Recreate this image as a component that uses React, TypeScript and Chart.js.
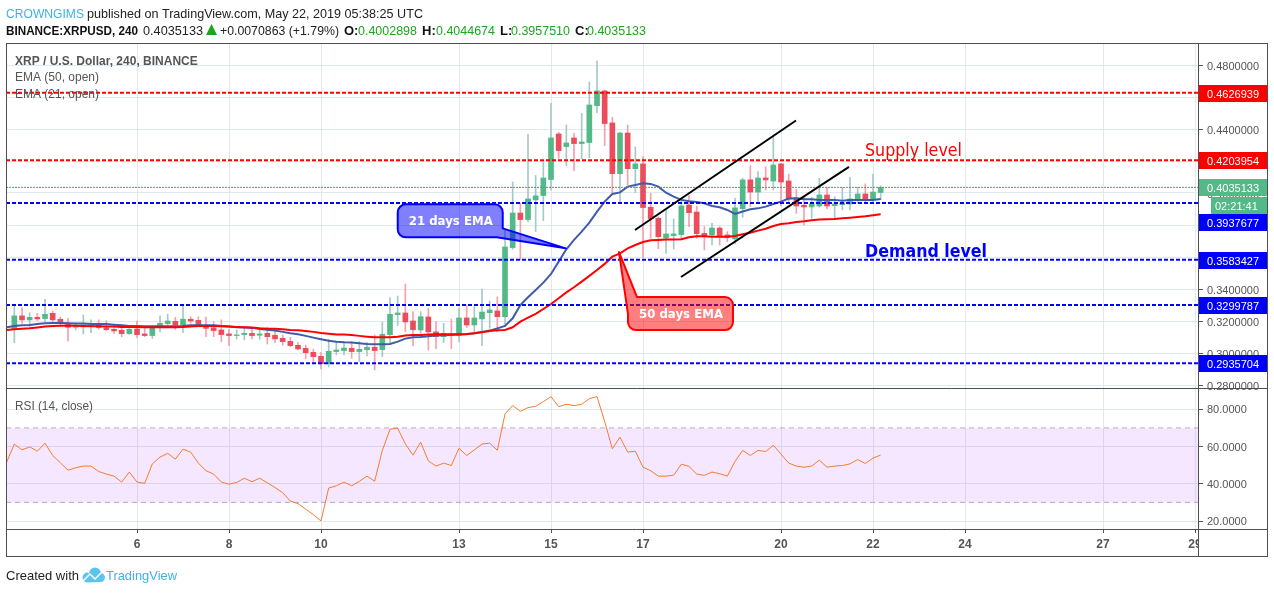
import React, { useEffect, useRef } from 'react';
import { Chart, registerables } from 'chart.js';

Chart.register(...registerables);

// 4h candles, May 2019. x is the day of the month
const firstCandleDay = 3 + 1 / 3;
const candlesPerDay = 6;
const dayTicks = [6, 8, 10, 13, 15, 17, 20, 22, 24, 27, 29];
const priceTicks = [0.48, 0.46, 0.44, 0.42, 0.4, 0.38, 0.36, 0.34, 0.32, 0.3, 0.28];
const rsiTicks = [80, 60, 40, 20];

const opens = [
  0.3153, 0.3232, 0.3207, 0.3223, 0.3215, 0.3248, 0.3211, 0.3186, 0.3161, 0.3163,
  0.3169, 0.3175, 0.3157, 0.3148, 0.3142, 0.3121, 0.315, 0.3119, 0.3109, 0.3159,
  0.3184, 0.3198, 0.3175, 0.3211, 0.3204, 0.3173, 0.3157, 0.3144, 0.3119, 0.3109,
  0.3115, 0.3123, 0.3111, 0.3123, 0.3111, 0.3092, 0.3073, 0.3048, 0.3029, 0.3004,
  0.2979, 0.2933, 0.3009, 0.3015, 0.3029, 0.3009, 0.3021, 0.3036, 0.3021, 0.3115,
  0.324, 0.325, 0.32, 0.3144, 0.3225, 0.3132, 0.3102, 0.3119, 0.3109, 0.3219,
  0.3175, 0.3213, 0.3252, 0.3263, 0.3227, 0.3659, 0.3875, 0.3834, 0.3957, 0.3984,
  0.4084, 0.4369, 0.429, 0.4344, 0.4309, 0.4315, 0.4546, 0.4638, 0.4438, 0.4121,
  0.4375, 0.4152, 0.4182, 0.3911, 0.3842, 0.3719, 0.3734, 0.374, 0.3925, 0.3881,
  0.3748, 0.3738, 0.3781, 0.3738, 0.3713, 0.3902, 0.4082, 0.4006, 0.4094, 0.4075,
  0.4182, 0.4075, 0.3969, 0.3923, 0.3913, 0.3919, 0.3988, 0.3921, 0.3927, 0.3931,
  0.3961, 0.3994, 0.3961, 0.4003,
];
const highs = [
  0.3305, 0.3282, 0.3252, 0.3248, 0.3336, 0.3263, 0.3223, 0.3217, 0.3186, 0.3238,
  0.3207, 0.3207, 0.3202, 0.3175, 0.3165, 0.3169, 0.32, 0.3154, 0.3169, 0.3232,
  0.3242, 0.3223, 0.3294, 0.3227, 0.3225, 0.3225, 0.3196, 0.3207, 0.3148, 0.3144,
  0.3161, 0.3154, 0.3148, 0.3161, 0.3154, 0.3113, 0.3098, 0.3065, 0.305, 0.3023,
  0.3004, 0.3086, 0.3071, 0.3071, 0.3071, 0.3071, 0.3065, 0.3113, 0.3194, 0.3346,
  0.3356, 0.3431, 0.3259, 0.3259, 0.328, 0.3196, 0.3186, 0.3211, 0.3284, 0.33,
  0.329, 0.34, 0.3325, 0.335, 0.3769, 0.4069, 0.3936, 0.4369, 0.4109, 0.4196,
  0.4561, 0.4379, 0.4425, 0.4373, 0.4498, 0.4694, 0.4825, 0.4644, 0.4473, 0.4379,
  0.4425, 0.4288, 0.4227, 0.3998, 0.3852, 0.3894, 0.3838, 0.3961, 0.3984, 0.3919,
  0.379, 0.3811, 0.379, 0.3759, 0.3967, 0.4092, 0.4171, 0.4134, 0.4165, 0.4352,
  0.4186, 0.4119, 0.4023, 0.3977, 0.3973, 0.4092, 0.4036, 0.3977, 0.4036, 0.4098,
  0.4036, 0.4057, 0.4119, 0.4045,
];
const lows = [
  0.3064, 0.3186, 0.3165, 0.3202, 0.3196, 0.319, 0.3165, 0.3075, 0.3144, 0.3119,
  0.3127, 0.3148, 0.314, 0.3123, 0.3102, 0.3115, 0.3096, 0.3102, 0.309, 0.3132,
  0.3175, 0.3148, 0.3127, 0.3186, 0.3165, 0.3102, 0.3102, 0.3071, 0.3046, 0.3088,
  0.3081, 0.3088, 0.3086, 0.3056, 0.3065, 0.3048, 0.304, 0.3019, 0.2965, 0.2944,
  0.29, 0.2913, 0.2988, 0.2988, 0.2967, 0.2946, 0.2981, 0.2894, 0.2977, 0.3056,
  0.3171, 0.3134, 0.3044, 0.3123, 0.3019, 0.3027, 0.3065, 0.3027, 0.3069, 0.3159,
  0.3119, 0.3046, 0.3154, 0.3132, 0.3165, 0.3648, 0.3582, 0.3821, 0.3759, 0.3827,
  0.4019, 0.4217, 0.4171, 0.414, 0.4213, 0.4221, 0.4502, 0.4296, 0.3994, 0.3942,
  0.4052, 0.4002, 0.3598, 0.3717, 0.3652, 0.3623, 0.365, 0.3706, 0.379, 0.3717,
  0.3644, 0.3675, 0.3675, 0.3696, 0.3681, 0.3848, 0.3915, 0.3936, 0.4019, 0.4019,
  0.3919, 0.3936, 0.3873, 0.38, 0.3842, 0.3911, 0.3902, 0.3836, 0.3894, 0.3894,
  0.3936, 0.3936, 0.3936, 0.3958,
];
const closes = [
  0.3232, 0.3207, 0.3223, 0.3213, 0.3242, 0.3207, 0.3184, 0.3161, 0.3171, 0.3175,
  0.3175, 0.3159, 0.3146, 0.3138, 0.3121, 0.3148, 0.3115, 0.3109, 0.3163, 0.3186,
  0.32, 0.3175, 0.3211, 0.32, 0.3171, 0.3154, 0.314, 0.3115, 0.3109, 0.3113,
  0.3123, 0.3109, 0.3119, 0.3102, 0.3088, 0.3071, 0.3046, 0.3025, 0.3002, 0.2977,
  0.2933, 0.3011, 0.3019, 0.3031, 0.3009, 0.3023, 0.3036, 0.3015, 0.3117, 0.3242,
  0.325, 0.3194, 0.3146, 0.3227, 0.3132, 0.3102, 0.3123, 0.3113, 0.3219, 0.3175,
  0.3219, 0.3256, 0.3269, 0.3227, 0.3663, 0.3875, 0.3834, 0.3963, 0.3982, 0.4094,
  0.4344, 0.4265, 0.4313, 0.4309, 0.4319, 0.455, 0.4638, 0.4434, 0.4121, 0.4375,
  0.4152, 0.4182, 0.3909, 0.384, 0.3727, 0.3744, 0.3744, 0.3919, 0.3877, 0.3746,
  0.3727, 0.3781, 0.3731, 0.3721, 0.3907, 0.4082, 0.4006, 0.4094, 0.4082, 0.4175,
  0.4069, 0.3963, 0.3919, 0.3913, 0.3931, 0.3988, 0.3919, 0.3931, 0.3938, 0.3963,
  0.3994, 0.3963, 0.4006, 0.4035,
];

// the indicators start one bar before the first visible candle
const ema21 = [
  0.3161, 0.3169, 0.3173, 0.3175, 0.3181, 0.3186, 0.3188, 0.3188, 0.3186, 0.3184,
  0.3184, 0.3181, 0.3181, 0.3181, 0.3177, 0.3173, 0.3169, 0.3169, 0.3167, 0.3167,
  0.3167, 0.3167, 0.3167, 0.3169, 0.3173, 0.3173, 0.3173, 0.3173, 0.3169, 0.3165,
  0.3161, 0.3159, 0.3157, 0.315, 0.3146, 0.314, 0.3132, 0.3123, 0.3117, 0.3107,
  0.3096, 0.3086, 0.3077, 0.3071, 0.3067, 0.3065, 0.3061, 0.3056, 0.3054, 0.3054,
  0.3056, 0.3071, 0.309, 0.3098, 0.31, 0.3104, 0.3109, 0.3111, 0.3113, 0.3115,
  0.3117, 0.3123, 0.3132, 0.314, 0.3154, 0.3169, 0.3217, 0.33, 0.3348, 0.3394,
  0.344, 0.3494, 0.3571, 0.3648, 0.3707, 0.3759, 0.3815, 0.3884, 0.3946, 0.3994,
  0.4004, 0.404, 0.405, 0.4061, 0.4057, 0.404, 0.4002, 0.3977, 0.3957, 0.3948,
  0.3944, 0.3936, 0.3919, 0.3911, 0.3894, 0.3869, 0.3884, 0.3898, 0.3904, 0.3915,
  0.3931, 0.3946, 0.3965, 0.3967, 0.3961, 0.3961, 0.3957, 0.3957, 0.3957, 0.3952,
  0.3957, 0.3957, 0.3957, 0.3957, 0.3963,
];
const ema50 = [
  0.3144, 0.3148, 0.3152, 0.3154, 0.3159, 0.3165, 0.3169, 0.3171, 0.3171, 0.3171,
  0.3169, 0.3167, 0.3167, 0.3165, 0.3165, 0.3163, 0.3163, 0.3163, 0.3161, 0.3161,
  0.3161, 0.3161, 0.3161, 0.3163, 0.3165, 0.3169, 0.3169, 0.3169, 0.3167, 0.3165,
  0.3163, 0.3161, 0.3159, 0.3154, 0.3152, 0.3152, 0.3148, 0.3144, 0.3142, 0.3138,
  0.3132, 0.3125, 0.3121, 0.3115, 0.3115, 0.3113, 0.3107, 0.3102, 0.3098, 0.3098,
  0.3098, 0.3102, 0.3109, 0.3113, 0.3113, 0.3115, 0.3117, 0.3117, 0.3117, 0.3117,
  0.3119, 0.3123, 0.3129, 0.3138, 0.3142, 0.3144, 0.3161, 0.3196, 0.3221, 0.3244,
  0.3275, 0.3306, 0.3342, 0.3379, 0.3411, 0.3446, 0.3482, 0.3519, 0.3557, 0.3602,
  0.3623, 0.3654, 0.3675, 0.3694, 0.3704, 0.3707, 0.3709, 0.3709, 0.3711, 0.3723,
  0.3729, 0.3729, 0.3727, 0.3727, 0.3727, 0.3731, 0.3742, 0.3752, 0.3765, 0.3777,
  0.3794, 0.3806, 0.3811, 0.3819, 0.3823, 0.3829, 0.3834, 0.3836, 0.3838, 0.3842,
  0.3846, 0.385, 0.3854, 0.3861, 0.3867,
];
const rsi = [
  51.6, 61.3, 58.2, 59.8, 57.5, 61.8, 55.2, 51.3, 47.3, 48.6,
  49.5, 49.5, 46.6, 45.2, 44.1, 40.9, 46.3, 40.9, 40.2, 50.7,
  54.3, 56.4, 53.2, 58.6, 57.0, 51.1, 47.0, 45.2, 40.9, 39.8,
  40.7, 43.0, 41.1, 43.0, 40.5, 38.0, 35.2, 30.7, 29.3, 26.4,
  23.4, 20.0, 37.7, 38.9, 40.9, 38.9, 41.3, 44.1, 41.4, 57.9,
  69.3, 69.8, 61.4, 55.4, 62.3, 52.3, 49.5, 51.1, 49.8, 59.1,
  55.2, 58.2, 61.3, 61.8, 58.0, 77.5, 82.0, 78.9, 80.9, 81.6,
  84.1, 86.8, 81.4, 82.7, 82.0, 82.7, 85.7, 86.8, 73.4, 58.8,
  65.0, 57.0, 57.5, 48.9, 47.0, 44.1, 44.1, 44.6, 50.5, 49.3,
  45.2, 44.5, 46.3, 45.4, 44.1, 52.0, 57.9, 55.2, 57.9, 57.3,
  60.7, 55.9, 51.1, 49.5, 48.9, 49.5, 52.7, 48.9, 49.5, 49.8,
  50.7, 53.0, 50.9, 53.8, 55.4,
];

const supplyLevels = [0.4626939, 0.4203954];
const demandLevels = [0.3937677, 0.3583427, 0.3299787, 0.2935704];
const lastPrice = 0.4035133;
const rsiBand = [70, 30];

// channel lines, [day, price] at both ends
const channelLines = [
  [[16.826, 0.3769], [20.326, 0.4453]],
  [[17.826, 0.3475], [21.478, 0.4163]],
];

const xMin = 3.152;
const xMax = 29.065;
const priceMin = 0.278125;
const priceMax = 0.49375;
const rsiMin = 15.71;
const rsiMax = 91.43;

const GREEN = '#53b987';
const RED = '#eb4d5c';
const GREEN_WICK = '#a3c9c9';
const RED_WICK = '#f5a0aa';
const GRID = '#e0e9ef';
const AXIS = '#555555';
const SANS = '"Liberation Sans", Arial, sans-serif';

const candleDay = (i: number) => firstCandleDay + i / candlesPerDay;

const text = (ctx, str, x, y, font, color, maxWidth?) => {
  ctx.font = font;
  ctx.fillStyle = color;
  ctx.textAlign = 'left';
  ctx.textBaseline = 'alphabetic';
  if (maxWidth) ctx.fillText(str, x, y, maxWidth);
  else ctx.fillText(str, x, y);
};

// callout: box and tail as one outline, the tail points at a [day, price] spot on the EMA
const callout = (ctx, chart, c) => {
  const tipX = chart.scales.x.getPixelForValue(c.day);
  const tipY = chart.scales.y.getPixelForValue(c.price);
  const bx = tipX + c.dx;
  const by = tipY + c.dy;
  const pts = c.outline.map(([x, y, r]) => [bx + x, by + y, r]);
  ctx.save();
  ctx.fillStyle = c.fill;
  ctx.strokeStyle = c.stroke;
  ctx.lineWidth = 2;
  ctx.lineJoin = 'round';
  ctx.beginPath();
  ctx.moveTo(tipX, tipY);
  pts.forEach(([x, y, r], i) => {
    const next = pts[i + 1];
    if (r && next) ctx.arcTo(x, y, next[0], next[1], r);
    else ctx.lineTo(x, y);
  });
  ctx.closePath();
  ctx.fill();
  ctx.stroke();
  ctx.restore();
  text(ctx, c.label, bx + 11, by + 21, 'bold 13px "DejaVu Sans"', '#ffffff', 84);
};

const overlay = {
  id: 'overlay',
  afterDatasetsDraw(chart) {
    const { ctx, chartArea, scales } = chart;
    const { left, right, top, bottom } = chartArea;
    const outerRight = right + 69;

    // price tags on the axis
    const tag = (value, color, label, dy = 0) => {
      const y = Math.round(scales.y.getPixelForValue(value)) + dy;
      ctx.fillStyle = color;
      ctx.fillRect(right, y - 8, 69, 17);
      text(ctx, label, right + 9, y + 5, `11px ${SANS}`, '#ffffff');
    };
    supplyLevels.forEach((v) => tag(v, '#ff0000', v.toFixed(7)));
    demandLevels.forEach((v, i) => tag(v, '#0000ff', v.toFixed(7), i === 0 ? 19 : 0));
    tag(lastPrice, GREEN, lastPrice.toFixed(7));
    ctx.fillStyle = GREEN;
    ctx.fillRect(right + 13, 197, 56, 17);
    text(ctx, '02:21:41', right + 17, 210, `11px ${SANS}`, '#ffffff');

    // frame
    ctx.fillStyle = '#ffffff';
    ctx.fillRect(right + 1, bottom + 1, 68, 26);
    ctx.strokeStyle = '#4f4f4f';
    ctx.lineWidth = 1;
    ctx.strokeRect(left + 0.5, top + 0.5, outerRight - left, bottom + 27 - top);
    ctx.beginPath();
    ctx.moveTo(left, scales.y.bottom + 0.5);
    ctx.lineTo(outerRight, scales.y.bottom + 0.5);
    ctx.moveTo(left, bottom + 0.5);
    ctx.lineTo(outerRight, bottom + 0.5);
    ctx.moveTo(right + 0.5, top);
    ctx.lineTo(right + 0.5, bottom + 27);
    ctx.stroke();
  },
  afterDraw(chart) {
    const { ctx } = chart;

    // header
    text(ctx, 'CROWNGIMS', 6, 18, `13px ${SANS}`, '#3bb3e4', 78);
    text(ctx, 'published on TradingView.com, May 22, 2019 05:38:25 UTC', 87, 18, `13px ${SANS}`, '#222222', 336);
    text(ctx, 'BINANCE:XRPUSD, 240', 6, 35, `bold 13px ${SANS}`, '#111111', 132);
    text(ctx, '0.4035133', 143, 35, `13px ${SANS}`, '#222222', 60);
    ctx.fillStyle = '#1aa81a';
    ctx.beginPath();
    ctx.moveTo(206, 35);
    ctx.lineTo(217, 35);
    ctx.lineTo(211.5, 24);
    ctx.closePath();
    ctx.fill();
    text(ctx, '+0.0070863 (+1.79%)', 220, 35, `13px ${SANS}`, '#222222', 119);
    const ohlc = [
      ['O:', '0.4002898', 344, 358],
      ['H:', '0.4044674', 422, 436],
      ['L:', '0.3957510', 500, 511],
      ['C:', '0.4035133', 575, 587],
    ];
    ohlc.forEach(([k, v, kx, vx]) => {
      text(ctx, k, kx, 35, `bold 13px ${SANS}`, '#111111');
      text(ctx, v, vx, 35, `13px ${SANS}`, '#1aa81a', 59);
    });

    // pane legends
    text(ctx, 'XRP / U.S. Dollar, 240, BINANCE', 15, 65, `bold 12px ${SANS}`, '#555555', 184);
    text(ctx, 'EMA (50, open)', 15, 81, `12px ${SANS}`, '#555555', 87);
    text(ctx, 'EMA (21, open)', 15, 98, `12px ${SANS}`, '#555555', 87);
    text(ctx, 'RSI (14, close)', 15, 410, `12px ${SANS}`, '#555555', 78);

    // hand drawn annotations
    callout(ctx, chart, {
      label: '21 days EMA', day: 15.32, price: 0.3654, dx: -168, dy: -44,
      fill: 'rgba(0,0,255,0.5)', stroke: '#0000ff',
      outline: [[99, 33, 0], [0, 33, 8], [0, 0, 8], [105, 0, 8], [105, 24, 0]],
    });
    callout(ctx, chart, {
      label: '50 days EMA', day: 16.478, price: 0.3631, dx: 9, dy: 45,
      fill: 'rgba(255,0,0,0.5)', stroke: '#ff0000',
      outline: [[0, 17, 0], [0, 33, 8], [105, 33, 8], [105, 0, 8], [9, 0, 0]],
    });
    text(ctx, 'Supply level', 865, 156, '17px "DejaVu Sans"', '#ff0000', 97);
    text(ctx, 'Demand level', 865, 257, 'bold 17px "DejaVu Sans"', '#0000ff', 122);

    // footer
    text(ctx, 'Created with', 6, 580, `13px ${SANS}`, '#222222');
    ctx.fillStyle = '#5cc4ea';
    ctx.beginPath();
    ctx.arc(87.5, 577.5, 5, Math.PI / 2, Math.PI * 1.5);
    ctx.arc(95, 573.5, 6, Math.PI, Math.PI * 2);
    ctx.arc(100.5, 577.5, 4.5, -Math.PI / 2, Math.PI / 2);
    ctx.closePath();
    ctx.fill();
    ctx.strokeStyle = '#ffffff';
    ctx.lineWidth = 1.5;
    ctx.beginPath();
    ctx.moveTo(83, 581);
    ctx.lineTo(90, 574);
    ctx.lineTo(95, 579);
    ctx.lineTo(103, 571);
    ctx.stroke();
    text(ctx, 'TradingView', 106, 580, `13px ${SANS}`, '#3bb3e4', 71);
  },
};

const App = () => {
  const canvasRef = useRef(null);

  useEffect(() => {
    document.body.style.margin = '0';

    const hLine = (value, yAxisID, color, extra = {}) => ({
      type: 'line',
      data: [{ x: xMin, y: value }, { x: xMax, y: value }],
      yAxisID,
      borderColor: color,
      borderWidth: 2,
      pointRadius: 0,
      order: 2,
      ...extra,
    });

    const chart = new Chart(canvasRef.current, {
      type: 'line',
      data: {
        datasets: [
          {
            type: 'bar',
            data: closes.map((_, i) => ({ x: candleDay(i), y: [lows[i], highs[i]] })),
            backgroundColor: closes.map((c, i) => (c >= opens[i] ? GREEN_WICK : RED_WICK)),
            barThickness: 1,
            grouped: false,
            yAxisID: 'y',
            order: 6,
          },
          {
            type: 'bar',
            data: closes.map((c, i) => ({ x: candleDay(i), y: [opens[i], c] })),
            backgroundColor: closes.map((c, i) => (c >= opens[i] ? GREEN : RED)),
            barThickness: 5,
            grouped: false,
            yAxisID: 'y',
            order: 5,
          },
          {
            type: 'line',
            data: ema21.map((v, i) => ({ x: candleDay(i - 1), y: v })),
            yAxisID: 'y',
            borderColor: '#3f5cab',
            borderWidth: 2,
            pointRadius: 0,
            order: 4,
          },
          {
            type: 'line',
            data: ema50.map((v, i) => ({ x: candleDay(i - 1), y: v })),
            yAxisID: 'y',
            borderColor: '#ff0000',
            borderWidth: 2,
            pointRadius: 0,
            order: 3,
          },
          ...supplyLevels.map((v) => hLine(v, 'y', '#ff0000', { borderDash: [4, 2] })),
          ...demandLevels.map((v) => hLine(v, 'y', '#0000ff', { borderDash: [4, 2] })),
          hLine(lastPrice, 'y', '#3aa873', { borderWidth: 1, borderDash: [2, 1] }),
          ...channelLines.map((line) => ({
            type: 'line',
            data: line.map(([x, y]) => ({ x, y })),
            yAxisID: 'y',
            borderColor: '#000000',
            borderWidth: 2,
            pointRadius: 0,
            order: 1,
          })),
          hLine(rsiBand[0], 'rsi', '#bcaec4', {
            borderWidth: 1,
            borderDash: [5, 4],
            fill: '+1',
            backgroundColor: 'rgba(153,21,255,0.1)',
          }),
          hLine(rsiBand[1], 'rsi', '#bcaec4', { borderWidth: 1, borderDash: [5, 4] }),
          {
            type: 'line',
            data: rsi.map((v, i) => ({ x: candleDay(i - 1), y: v })),
            yAxisID: 'rsi',
            borderColor: '#f57c2c',
            borderWidth: 1,
            pointRadius: 0,
            order: 1,
          },
        ],
      },
      options: {
        responsive: false,
        animation: false,
        devicePixelRatio: 1,
        layout: { padding: { left: 6, top: 43, right: 7, bottom: 37 } },
        plugins: { legend: { display: false }, tooltip: { enabled: false } },
        scales: {
          x: {
            type: 'linear',
            min: xMin,
            max: xMax,
            offset: false,
            grid: { offset: false, color: GRID, tickColor: AXIS, tickLength: 4 },
            border: { display: false },
            afterBuildTicks: (scale) => {
              scale.ticks = dayTicks.map((value) => ({ value }));
            },
            afterFit: (scale) => {
              scale.height = 27;
            },
            ticks: {
              autoSkip: false,
              maxRotation: 0,
              padding: 4,
              color: AXIS,
              font: { family: SANS, size: 12, weight: 'bold' },
              callback: (v) => String(v),
            },
          },
          y: {
            type: 'linear',
            position: 'right',
            stack: 'panes',
            stackWeight: 345,
            beginAtZero: false,
            min: priceMin,
            max: priceMax,
            grid: { color: GRID, tickColor: AXIS, tickLength: 5 },
            border: { display: false },
            afterBuildTicks: (scale) => {
              scale.ticks = priceTicks.map((value) => ({ value }));
            },
            afterFit: (scale) => {
              scale.width = 69;
            },
            ticks: {
              autoSkip: false,
              padding: 4,
              labelOffset: 2,
              color: AXIS,
              font: { family: SANS, size: 11 },
              callback: (v) => Number(v).toFixed(7),
            },
          },
          rsi: {
            type: 'linear',
            position: 'right',
            stack: 'panes',
            stackWeight: 141,
            min: rsiMin,
            max: rsiMax,
            grid: { color: GRID, tickColor: AXIS, tickLength: 5 },
            border: { display: false },
            afterBuildTicks: (scale) => {
              scale.ticks = rsiTicks.map((value) => ({ value }));
            },
            afterFit: (scale) => {
              scale.width = 69;
            },
            ticks: {
              autoSkip: false,
              padding: 4,
              labelOffset: 1,
              color: AXIS,
              font: { family: SANS, size: 11 },
              callback: (v) => Number(v).toFixed(4),
            },
          },
        },
      },
      plugins: [overlay],
    });

    return () => chart.destroy();
  }, []);

  return <canvas ref={canvasRef} width={1274} height={593} style={{ display: 'block' }} />;
};

export default App;
